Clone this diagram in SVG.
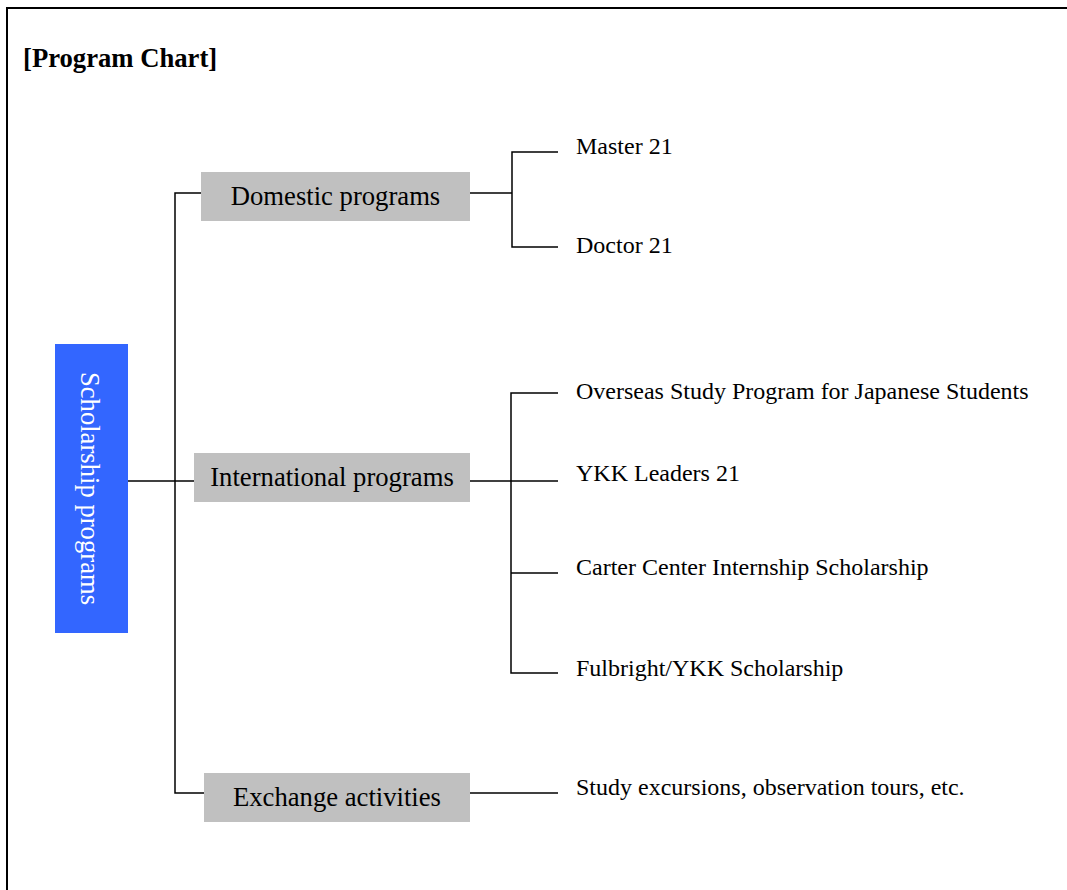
<svg xmlns="http://www.w3.org/2000/svg" width="1067" height="890" viewBox="0 0 1067 890">
<style>
.frame{fill:none;stroke:#000;stroke-width:2}
.ln{fill:none;stroke:#000;stroke-width:1.5}
.box{fill:#C0C0C0}
.bt{font-family:"Liberation Serif","Times New Roman",serif;font-size:26.67px;fill:#000;text-anchor:middle}
.lt{font-family:"Liberation Serif","Times New Roman",serif;font-size:24px;fill:#000}
.title{font-family:"Liberation Serif","Times New Roman",serif;font-size:26.67px;font-weight:bold;fill:#000}
</style>
<rect width="1067" height="890" fill="#fff"/>
<rect class="frame" x="7" y="8" width="1100" height="1000"/>
<text class="title" x="23" y="67">[Program Chart]</text>
<g id="connectors">
<path class="ln" d="M128,481 H194"/>
<path class="ln" d="M201,193 H175 V793 H204"/>
<path class="ln" d="M470,193 H512"/>
<path class="ln" d="M558,152 H512 V247 H558"/>
<path class="ln" d="M470,481 H558"/>
<path class="ln" d="M558,393 H511 V673 H558"/>
<path class="ln" d="M511,573 H558"/>
<path class="ln" d="M470,793 H558"/>
</g>
<g id="scholarship">
<rect x="55" y="344" width="73" height="289" fill="#3366FF"/>
<text transform="translate(81,488.5) rotate(90)" style="font-family:'Liberation Serif','Times New Roman',serif;font-size:26.67px;fill:#fff;text-anchor:middle">Scholarship programs</text>
</g>
<g id="domestic">
<rect class="box" x="201" y="172" width="269" height="49"/>
<text class="bt" x="335.5" y="205">Domestic programs</text>
</g>
<g id="international">
<rect class="box" x="194" y="453" width="276" height="49"/>
<text class="bt" x="332" y="486">International programs</text>
</g>
<g id="exchange">
<rect class="box" x="204" y="773" width="266" height="49"/>
<text class="bt" x="337" y="806">Exchange activities</text>
</g>
<g id="master21"><text class="lt" x="576" y="154">Master 21</text></g>
<g id="doctor21"><text class="lt" x="576" y="253">Doctor 21</text></g>
<g id="overseas"><text class="lt" x="576" y="399">Overseas Study Program for Japanese Students</text></g>
<g id="ykk"><text class="lt" x="576" y="481">YKK Leaders 21</text></g>
<g id="carter"><text class="lt" x="576" y="575">Carter Center Internship Scholarship</text></g>
<g id="fulbright"><text class="lt" x="576" y="676">Fulbright/YKK Scholarship</text></g>
<g id="study"><text class="lt" x="576" y="795">Study excursions, observation tours, etc.</text></g>
</svg>
